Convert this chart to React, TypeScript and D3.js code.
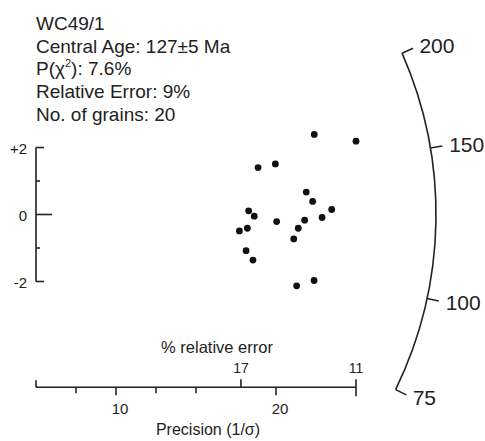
import React from "react";
import * as d3 from "d3";

// ---- data ----
const sampleName = "WC49/1";
const centralAgeText = "Central Age: 127±5 Ma";
const pChi2Value = "7.6%";
const relErrorText = "Relative Error: 9%";
const grainsText = "No. of grains: 20";

// grain positions: precision (1/σ, bottom axis units) and standardised estimate
const precision = [22.39, 25.0, 18.88, 19.96, 21.89, 22.29, 23.48, 22.88, 21.79, 20.04, 21.39, 21.11, 18.29, 18.64, 18.21, 17.71, 18.13, 18.56, 21.29, 22.38];
const zScores = [2.39, 2.19, 1.4, 1.51, 0.67, 0.39, 0.15, -0.09, -0.17, -0.21, -0.41, -0.73, 0.11, -0.05, -0.41, -0.49, -1.08, -1.36, -2.13, -1.97];

const precisionTicks = [10, 20];
const precisionMinorTicks = [7.5, 12.5, 15];
const relErrorTicks = [17, 11];
const zTicks = [2, 1, 0, -1, -2];
const zLabels = ["+2", "", "0", "", "-2"];
const ageTicks = [200, 150, 100, 75];
const arcRefAge = 125.5;

const W = 485;
const H = 441;
const FONT = "'Liberation Sans', Arial, Helvetica, sans-serif";
const INK = "#222";

export default function App() {
  const xScale = d3.scaleLinear().domain([5, 25]).range([36, 356]);
  const relScale = d3.scaleLinear().domain([0, 100 / 11]).range([30, 356]);
  const yScale = d3.scaleLinear().domain([-2, 2]).range([281.5, 147.5]);

  const cx = 36;
  const cy = yScale(0);
  const R = 400;
  const k = 0.946;
  const angleScale = d3.scaleLinear().domain([0, 1]).range([0, k]);
  const ageAngle = (age: number) => -Math.atan(angleScale(Math.log(age / arcRefAge)));

  const aStart = ageAngle(d3.max(ageTicks) as number);
  const aEnd = ageAngle(d3.min(ageTicks) as number);
  const arcPath = d3.path();
  arcPath.arc(cx, cy, R, aStart, aEnd, false);

  const axisY = 387.3;
  const yAxisX = 36;

  return (
    <svg
      width={W}
      height={H}
      style={{ position: "absolute", left: 0, top: 0, background: "#fff" }}
      fontFamily={FONT}
    >
      <rect x={0} y={0} width={W} height={H} fill="#fff" />
      {/* header */}
      <g fill={INK} fontSize={19}>
        <text x={36} y={30}>{sampleName}</text>
        <text x={36} y={52.7}>{centralAgeText}</text>
        <text x={36} y={75.4}>
          P(χ<tspan fontSize={11} dy={-8}>2</tspan>
          <tspan dy={8}>): {pChi2Value}</tspan>
        </text>
        <text x={36} y={98.1}>{relErrorText}</text>
        <text x={36} y={120.8}>{grainsText}</text>
      </g>

      {/* left z-axis */}
      <g stroke={INK} strokeWidth={1.6} fill="none">
        <line x1={yAxisX} x2={yAxisX} y1={yScale(2)} y2={yScale(-2)} />
        {zTicks.map((t) => {
          const len = t === 0 ? 16 : Math.abs(t) === 2 ? 8 : 4;
          return <line key={t} x1={yAxisX} x2={yAxisX + len} y1={yScale(t)} y2={yScale(t)} />;
        })}
      </g>
      <g fill={INK} fontSize={15} textAnchor="end">
        {zTicks.map((t, i) =>
          zLabels[i] ? (
            <text key={t} x={27} y={yScale(t) + 6}>
              {zLabels[i]}
            </text>
          ) : null
        )}
      </g>

      {/* grains */}
      <g fill="#111">
        {precision.map((p, i) => (
          <circle key={i} cx={xScale(p)} cy={yScale(zScores[i])} r={3.4} />
        ))}
      </g>

      {/* bottom precision axis */}
      <g stroke={INK} strokeWidth={1.6} fill="none">
        <line x1={xScale(5)} x2={xScale(25)} y1={axisY} y2={axisY} />
        <line x1={xScale(5)} x2={xScale(5)} y1={axisY - 7} y2={axisY} />
        {precisionTicks.map((t) => (
          <line key={"p" + t} x1={xScale(t)} x2={xScale(t)} y1={axisY} y2={axisY + 8} />
        ))}
        {precisionMinorTicks.map((t) => (
          <line key={"m" + t} x1={xScale(t)} x2={xScale(t)} y1={axisY} y2={axisY + 6} />
        ))}
        {relErrorTicks.map((r, i) => (
          <line
            key={"r" + r}
            x1={relScale(100 / r)}
            x2={relScale(100 / r)}
            y1={axisY - 8}
            y2={i === relErrorTicks.length - 1 ? axisY + 9 : axisY}
          />
        ))}
      </g>
      <g fill={INK} textAnchor="middle">
        {precisionTicks.map((t) => (
          <text key={"pl" + t} x={xScale(t) + 4} y={413.5} fontSize={15}>
            {t}
          </text>
        ))}
        {relErrorTicks.map((r) => (
          <text key={"rl" + r} x={relScale(100 / r)} y={372.5} fontSize={14}>
            {r}
          </text>
        ))}
        <text x={217} y={352.5} fontSize={16.5}>% relative error</text>
        <text x={208} y={434.5} fontSize={16}>Precision (1/σ)</text>
      </g>

      {/* radial age scale */}
      <path d={arcPath.toString()} stroke={INK} strokeWidth={1.6} fill="none" />
      <g stroke={INK} strokeWidth={1.6}>
        {ageTicks.map((a) => {
          const th = ageAngle(a);
          return (
            <line
              key={"at" + a}
              x1={cx + R * Math.cos(th)}
              y1={cy + R * Math.sin(th)}
              x2={cx + (R + 12) * Math.cos(th)}
              y2={cy + (R + 12) * Math.sin(th)}
            />
          );
        })}
      </g>
      <g fill={INK} fontSize={21}>
        {ageTicks.map((a) => {
          const th = ageAngle(a);
          const rr = R + 19;
          return (
            <text
              key={"al" + a}
              x={cx + rr * Math.cos(th)}
              y={cy + rr * Math.sin(th) + 7.5}
            >
              {a}
            </text>
          );
        })}
      </g>
    </svg>
  );
}
